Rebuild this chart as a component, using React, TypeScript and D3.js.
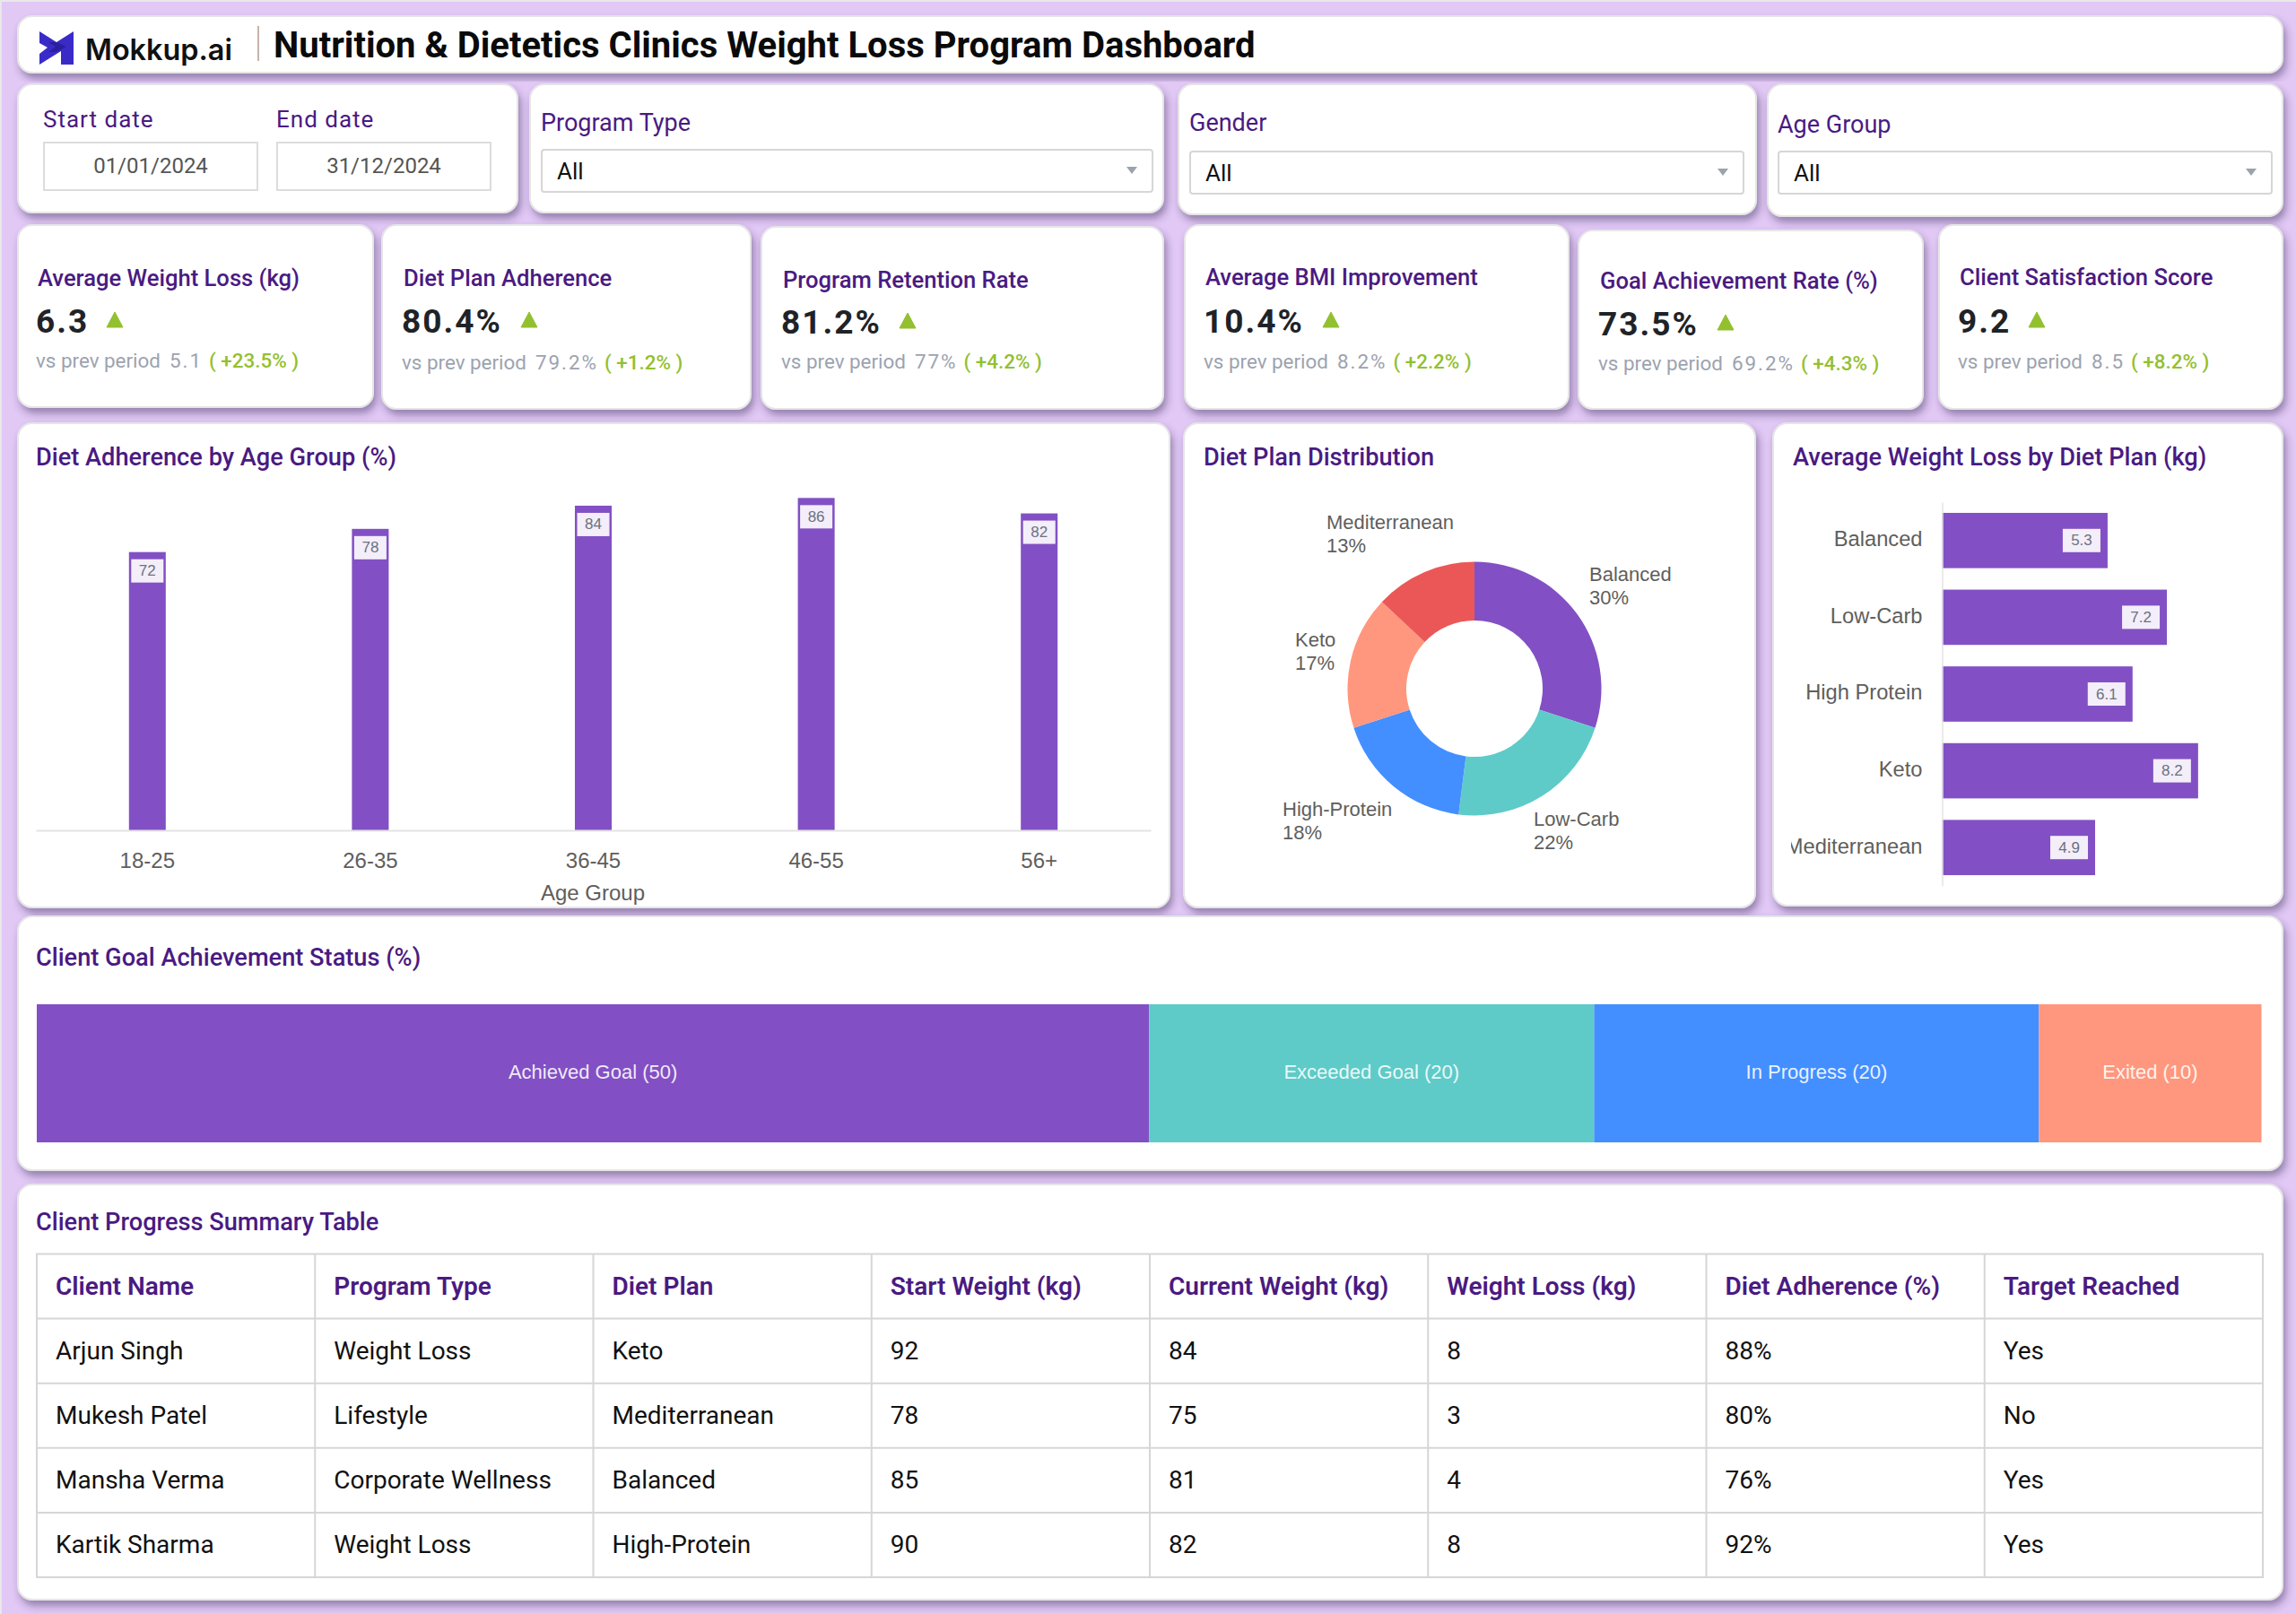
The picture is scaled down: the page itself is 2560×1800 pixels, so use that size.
import React, { useEffect, useRef } from 'react'
import * as d3 from 'd3'

const pageTitle = 'Nutrition & Dietetics Clinics Weight Loss Program Dashboard'

// kpi cards
const kpiTitles = ['Average Weight Loss (kg)', 'Diet Plan Adherence', 'Program Retention Rate', 'Average BMI Improvement', 'Goal Achievement Rate (%)', 'Client Satisfaction Score']
const kpiValues = ['6.3', '80.4%', '81.2%', '10.4%', '73.5%', '9.2']
const kpiPrev = ['5.1', '79.2%', '77%', '8.2%', '69.2%', '8.5']
const kpiDelta = ['+23.5%', '+1.2%', '+4.2%', '+2.2%', '+4.3%', '+8.2%']

// charts
const ageGroups = ['18-25', '26-35', '36-45', '46-55', '56+']
const ageAdherence = [72, 78, 84, 86, 82]
const dietPlans = ['Balanced', 'Low-Carb', 'High-Protein', 'Keto', 'Mediterranean']
const dietShare = [30, 22, 18, 17, 13]
const lossPlans = ['Balanced', 'Low-Carb', 'High Protein', 'Keto', 'Mediterranean']
const lossValues = [5.3, 7.2, 6.1, 8.2, 4.9]
const goalStatus = ['Achieved Goal', 'Exceeded Goal', 'In Progress', 'Exited']
const goalValues = [50, 20, 20, 10]

// table
const tableHeaders = ['Client Name', 'Program Type', 'Diet Plan', 'Start Weight (kg)', 'Current Weight (kg)', 'Weight Loss (kg)', 'Diet Adherence (%)', 'Target Reached']
const clientNames = ['Arjun Singh', 'Mukesh Patel', 'Mansha Verma', 'Kartik Sharma']
const clientPrograms = ['Weight Loss', 'Lifestyle', 'Corporate Wellness', 'Weight Loss']
const clientDiets = ['Keto', 'Mediterranean', 'Balanced', 'High-Protein']
const clientStart = [92, 78, 85, 90]
const clientCurrent = [84, 75, 81, 82]
const clientLoss = [8, 3, 4, 8]
const clientAdherence = ['88%', '80%', '76%', '92%']
const clientTarget = ['Yes', 'No', 'Yes', 'Yes']

const PURPLE = '#8250c4'
const TITLE = '#4a1a82'
const GREEN = '#93c02f'
const ROBOTO = 'Roboto, sans-serif'
const ARIAL = '"Liberation Sans", Arial, sans-serif'
const sliceColors = ['#8250c4', '#5ecbc8', '#438fff', '#ff977e', '#eb5757']

// x, y, w, h of each panel
const kpiBoxes = [
  [20, 251, 396, 203], [426, 251, 411, 205], [849, 253, 448, 203],
  [1321, 251, 428, 205], [1760, 257, 384, 199], [2162, 251, 383, 205],
]
// title y, value y, triangle x, sub y, text x
const kpiText = [
  [310, 358, 128, 402, 41], [310, 358, 590, 404, 449], [312, 359, 1012, 403, 872],
  [309, 358, 1484, 403, 1343], [313, 361, 1924, 405, 1783], [309, 358, 2271, 403, 2184],
]
const filterBoxes = [
  { label: 'Program Type', card: [591, 94, 706, 143], labelY: 137, sel: [603, 166, 683, 49] },
  { label: 'Gender', card: [1314, 94, 644, 145], labelY: 137, sel: [1326, 168, 619, 49] },
  { label: 'Age Group', card: [1971, 94, 574, 147], labelY: 139, sel: [1982, 168, 552, 49] },
]
const pieLabelAt = [[128, -128], [66, 145], [-214, 134], [-200, -55], [-165, -186]]

const xAge = d3.scaleBand<string>().domain(ageGroups).range([40, 1283]).paddingInner(0.835).paddingOuter(0.4175)
const yAge = d3.scaleLinear().domain([0, 100]).range([926, 495])
const yLoss = d3.scaleBand<string>().domain(lossPlans).range([560, 988]).paddingInner(0.28).paddingOuter(0.14)
const xLoss = d3.scaleLinear().domain([0, 10]).range([2165.5, 2513.5])
const xGoal = d3.scaleLinear().domain([0, 100]).range([41, 2521.5])
const xCol = d3.scaleBand<string>().domain(tableHeaders).range([41, 2523])
const yRow = d3.scaleBand<number>().domain([0, 1, 2, 3, 4]).range([1398.5, 1759])

const pieData = d3.pie<number>().sort(null).value(d => d)(dietShare)
const arcGen = d3.arc<d3.PieArcDatum<number>>().innerRadius(76).outerRadius(141.5)
const goalEdges = [0, ...d3.cumsum(goalValues)]

const Card = ({ x, y, w, h }: { x: number; y: number; w: number; h: number }) => (
  <rect x={x} y={y} width={w} height={h} rx={16} fill="#fff" stroke="#e6e6e6" strokeWidth={2} filter="url(#cardShadow)" />
)

const ChartTitle = ({ x, y, children }: { x: number; y: number; children: React.ReactNode }) => (
  <text x={x} y={y} dominantBaseline="central" fontFamily={ROBOTO} fontWeight={500} fontSize={27.2} fill={TITLE}>{children}</text>
)

const ValueTag = ({ cx, cy, text }: { cx: number; cy: number; text: string }) => (
  <g>
    <rect x={cx - 18} y={cy - 13} width={36} height={26} fill="#f3eef9" />
    <text x={cx} y={cy} textAnchor="middle" dominantBaseline="central" fontFamily={ARIAL} fontSize={17} fill="#6b7280">{text}</text>
  </g>
)

const Caret = ({ x, y }: { x: number; y: number }) => (
  <path d={`M${x - 6},${y - 4}H${x + 6}L${x},${y + 4}Z`} fill="#9ca3af" />
)

const App = () => {
  const xAxisRef = useRef<SVGGElement>(null)
  const yAxisRef = useRef<SVGGElement>(null)

  useEffect(() => {
    const xAxis = d3.select(xAxisRef.current!)
    xAxis.call(d3.axisBottom(xAge).tickSize(0).tickPadding(25) as any)
    xAxis.select('.domain').attr('stroke', '#e3e3e3').attr('stroke-width', 2)
    xAxis.selectAll('text').attr('font-size', 24).attr('font-family', ARIAL).attr('fill', '#605e5c')

    const yAxis = d3.select(yAxisRef.current!)
    yAxis.call(d3.axisLeft(yLoss).tickSize(0).tickPadding(22) as any)
    yAxis.select('.domain').attr('stroke', '#e3e3e3').attr('stroke-width', 1.5)
    yAxis.selectAll('text').attr('font-size', 23.7).attr('font-family', ARIAL).attr('fill', '#605e5c').attr('dy', '.27em')
  }, [])

  return (
    <svg width={2560} height={1800} viewBox="0 0 2560 1800" style={{ position: 'absolute', left: 0, top: 0, display: 'block' }}>
      <defs>
        <filter id="cardShadow" x="-5%" y="-10%" width="110%" height="125%">
          <feDropShadow dx={3} dy={6} stdDeviation={4} floodColor="#3d2a5c" floodOpacity={0.45} />
        </filter>
        <clipPath id="lossClip"><rect x={1997} y={540} width={540} height={470} /></clipPath>
      </defs>

      <rect width={2560} height={1800} fill="#e8e8e8" />
      <rect x={2} y={2} width={2558} height={1798} fill="#e1c8f5" />

      {/* header */}
      <Card x={20} y={18} w={2525} h={63} />
      <path d="M44,35L63,47L82,35V72H68V57L44,72V60L53,53L44,48Z" fill="#3a2bc9" />
      <path d="M54,47L63,47L74,52L63,58L54,58L62,52Z" fill="#2a1f9c" />
      <text x={95} y={67} fontFamily="Inter, sans-serif" fontWeight={600} fontSize={32.4} fill="#111">Mokkup.ai</text>
      <line x1={288} y1={29} x2={288} y2={68} stroke="#b59a90" strokeWidth={1.5} />
      <text x={305} y={50} dominantBaseline="central" fontFamily={ROBOTO} fontWeight={700} fontSize={40} fill="#0a0a0a">{pageTitle}</text>

      {/* date filter */}
      <Card x={20} y={94} w={557} h={143} />
      {[['Start date', '01/01/2024', 48], ['End date', '31/12/2024', 308]].map(([label, value, x]) => (
        <g key={label as string}>
          <text x={x as number} y={133} dominantBaseline="central" fontFamily={ROBOTO} fontSize={26} letterSpacing={1} fill={TITLE}>{label}</text>
          <rect x={(x as number) + 1} y={159} width={238} height={53} fill="#fff" stroke="#dcdcdc" strokeWidth={2} />
          <text x={(x as number) + 120} y={185} textAnchor="middle" dominantBaseline="central" fontFamily={ROBOTO} fontSize={24} fill="#555">{value}</text>
        </g>
      ))}

      {/* dropdown filters */}
      {filterBoxes.map(f => (
        <g key={f.label}>
          <Card x={f.card[0]} y={f.card[1]} w={f.card[2]} h={f.card[3]} />
          <text x={f.sel[0]} y={f.labelY} dominantBaseline="central" fontFamily={ROBOTO} fontSize={27} fill={TITLE}>{f.label}</text>
          <rect x={f.sel[0] + 1} y={f.sel[1] + 1} width={f.sel[2] - 2} height={f.sel[3] - 2} rx={3} fill="#fff" stroke="#d6d6d6" strokeWidth={2} />
          <text x={f.sel[0] + 18} y={f.sel[1] + 25} dominantBaseline="central" fontFamily={ROBOTO} fontSize={26} fill="#111">All</text>
          <Caret x={f.sel[0] + f.sel[2] - 24} y={f.sel[1] + 24} />
        </g>
      ))}

      {/* kpi cards */}
      {kpiTitles.map((title, i) => {
        const [x, y, w, h] = kpiBoxes[i]
        const [titleY, valueY, triX, subY, textX] = kpiText[i]
        return (
          <g key={title}>
            <Card x={x} y={y} w={w} h={h} />
            <text x={textX + 1} y={titleY} dominantBaseline="central" fontFamily={ROBOTO} fontWeight={500} fontSize={25.6} fill={TITLE}>{title}</text>
            <text x={textX - 1} y={valueY} dominantBaseline="central" fontFamily={ROBOTO} fontWeight={700} fontSize={37} letterSpacing={2} fill="#1f2328">{kpiValues[i]}</text>
            <path d={`M${triX - 9},${valueY + 7}L${triX},${valueY - 10}L${triX + 9},${valueY + 7}Z`} fill={GREEN} stroke={GREEN} strokeWidth={1} strokeLinejoin="round" />
            <text x={textX - 1} y={subY} dominantBaseline="central" fontFamily={ROBOTO} fontSize={22.4} fill="#9ca3af">
              vs prev period
              <tspan dx={10} letterSpacing={2}>{kpiPrev[i]}</tspan>
              <tspan dx={7} fill={GREEN} fontWeight={500}>( {kpiDelta[i]} )</tspan>
            </text>
          </g>
        )
      })}

      {/* diet adherence by age */}
      <Card x={20} y={472} w={1284} h={540} />
      <ChartTitle x={40} y={510}>Diet Adherence by Age Group (%)</ChartTitle>
      {ageGroups.map((a, i) => (
        <rect key={a} x={xAge(a)} y={yAge(ageAdherence[i])} width={xAge.bandwidth()} height={yAge(0) - yAge(ageAdherence[i])} fill={PURPLE} />
      ))}
      {ageGroups.map((a, i) => (
        <ValueTag key={a} cx={xAge(a)! + xAge.bandwidth() / 2} cy={yAge(ageAdherence[i]) + 21} text={String(ageAdherence[i])} />
      ))}
      <g ref={xAxisRef} transform="translate(0,926)" />
      <text x={661} y={995} textAnchor="middle" dominantBaseline="central" fontFamily={ARIAL} fontSize={24} fill="#605e5c">Age Group</text>

      {/* diet plan distribution */}
      <Card x={1320} y={472} w={637} h={540} />
      <ChartTitle x={1342} y={510}>Diet Plan Distribution</ChartTitle>
      <g transform="translate(1644,768)">
        {pieData.map((d, i) => <path key={dietPlans[i]} d={arcGen(d)!} fill={sliceColors[i]} />)}
        {pieData.map((d, i) => (
          <text key={dietPlans[i]} x={pieLabelAt[i][0]} y={pieLabelAt[i][1]} fontFamily={ARIAL} fontSize={22} fill="#605e5c">
            <tspan x={pieLabelAt[i][0]} dominantBaseline="central">{dietPlans[i]}</tspan>
            <tspan x={pieLabelAt[i][0]} dy={26} dominantBaseline="central">{d.value}%</tspan>
          </text>
        ))}
      </g>

      {/* weight loss by plan */}
      <Card x={1977} y={472} w={568} h={538} />
      <ChartTitle x={1999} y={510}>Average Weight Loss by Diet Plan (kg)</ChartTitle>
      {lossPlans.map((p, i) => (
        <rect key={p} x={xLoss(0)} y={yLoss(p)} width={xLoss(lossValues[i]) - xLoss(0)} height={yLoss.bandwidth()} fill={PURPLE} />
      ))}
      {lossPlans.map((p, i) => (
        <g key={p} transform={`translate(${xLoss(lossValues[i]) - 29},${yLoss(p)! + yLoss.bandwidth() / 2})`}>
          <rect x={-21} y={-13} width={42} height={26} fill="#f3eef9" />
          <text textAnchor="middle" dominantBaseline="central" fontFamily={ARIAL} fontSize={17} fill="#6b7280">{lossValues[i]}</text>
        </g>
      ))}
      <g clipPath="url(#lossClip)">
        <g ref={yAxisRef} transform="translate(2165.5,0)" />
      </g>

      {/* goal status */}
      <Card x={20} y={1022} w={2525} h={283} />
      <ChartTitle x={40} y={1068}>Client Goal Achievement Status (%)</ChartTitle>
      {goalStatus.map((s, i) => (
        <g key={s}>
          <rect x={xGoal(goalEdges[i])} y={1120} width={xGoal(goalEdges[i + 1]) - xGoal(goalEdges[i])} height={154} fill={sliceColors[i]} />
          <text x={(xGoal(goalEdges[i]) + xGoal(goalEdges[i + 1])) / 2} y={1195} textAnchor="middle" dominantBaseline="central" fontFamily={ARIAL} fontSize={22} fill="#fff" fillOpacity={0.9}>{s} ({goalValues[i]})</text>
        </g>
      ))}

      {/* table */}
      <Card x={20} y={1321} w={2525} h={463} />
      <ChartTitle x={40} y={1363}>Client Progress Summary Table</ChartTitle>
      <rect x={41} y={1398.5} width={2482} height={360.5} fill="#fff" stroke="#d6d6d6" strokeWidth={2} />
      {tableHeaders.slice(1).map(h => (
        <line key={h} x1={xCol(h)} x2={xCol(h)} y1={1398} y2={1759} stroke="#d6d6d6" strokeWidth={2} />
      ))}
      {[1, 2, 3, 4].map(r => (
        <line key={r} x1={41} x2={2523} y1={yRow(r)} y2={yRow(r)} stroke="#d6d6d6" strokeWidth={2} />
      ))}
      {tableHeaders.map(h => (
        <text key={h} x={xCol(h)! + 21} y={yRow(0)! + yRow.bandwidth() / 2} dominantBaseline="central" fontFamily={ROBOTO} fontWeight={600} fontSize={28} fill={TITLE}>{h}</text>
      ))}
      {clientNames.map((name, r) => {
        const cells = [name, clientPrograms[r], clientDiets[r], clientStart[r], clientCurrent[r], clientLoss[r], clientAdherence[r], clientTarget[r]]
        return cells.map((c, i) => (
          <text key={i + '-' + r} x={xCol(tableHeaders[i])! + 21} y={yRow(r + 1)! + yRow.bandwidth() / 2} dominantBaseline="central" fontFamily={ROBOTO} fontSize={28} fill="#111">{c}</text>
        ))
      })}
    </svg>
  )
}

export default App
